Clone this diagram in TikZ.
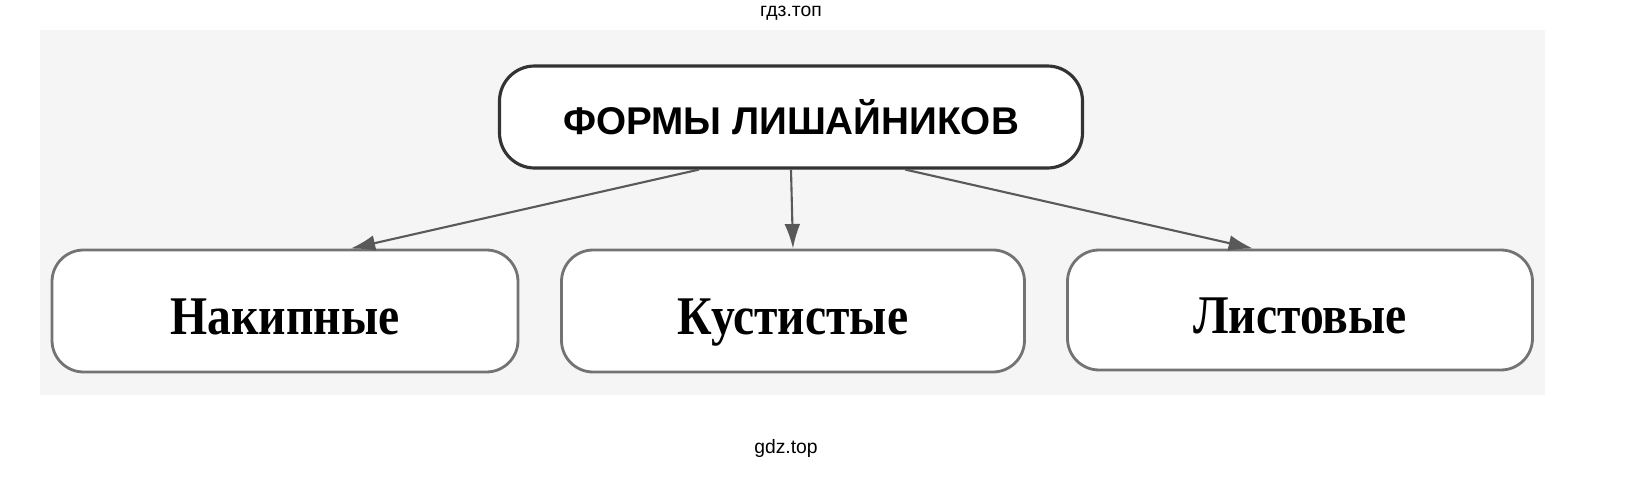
\documentclass[tikz,border=0pt]{standalone}
\usepackage{fontspec}
\setmainfont{Liberation Serif}
\newfontfamily\headfont{Liberation Sans}
\newfontfamily\boxfont[FakeStretch=0.875]{Liberation Serif}
\usetikzlibrary{arrows.meta,calc}

\tikzset{
    formbox/.style={draw=black!55, line width=0.8pt, rounded corners=9pt, fill=white,
        minimum width=4.66cm, minimum height=1.22cm, text height=14pt, text depth=0.5pt,
        font=\boxfont\bfseries\fontsize{15.5}{18}\selectfont},
    link/.style={draw=black!65, line width=0.6pt, -{Latex[length=7pt,width=4.5pt]}},
}

\begin{document}
\begin{tikzpicture}[x=0.1mm, y=-0.1mm]
        \useasboundingbox (0, 0) rectangle (1651, 493);
        \fill[black!4] (40, 30) rectangle (1545, 395);

        \node[font=\headfont\fontsize{5.5}{7}\selectfont] (wmtop) at (791, 13) {гдз.топ};
        \node[font=\headfont\fontsize{5.5}{7}\selectfont] (wmbot) at (786, 449) {gdz.top};

        \node[draw=black!80, line width=0.9pt, rounded corners=10pt, fill=white,
            minimum width=5.83cm, minimum height=1.02cm,
            font=\headfont\bfseries\fontsize{11}{13}\selectfont] (forms) at (791, 117) {ФОРМЫ ЛИШАЙНИКОВ};

        \node[formbox] (crust) at (285, 311) {Накипные};
        \node[formbox, minimum width=4.63cm] (bush) at (793, 311) {Кустистые};
        \node[formbox, minimum width=4.65cm, minimum height=1.2cm] (leaf) at (1300, 310) {Листовые};

        \draw[link] ($(forms.south west)!0.343!(forms.south east)$) -- ($(crust.north west)!0.64!(crust.north east)$);
        \draw[link] (forms.south) -- (bush.north);
        \draw[link] ($(forms.south west)!0.695!(forms.south east)$) -- ($(leaf.north west)!0.40!(leaf.north east)$);
\end{tikzpicture}
\end{document}
